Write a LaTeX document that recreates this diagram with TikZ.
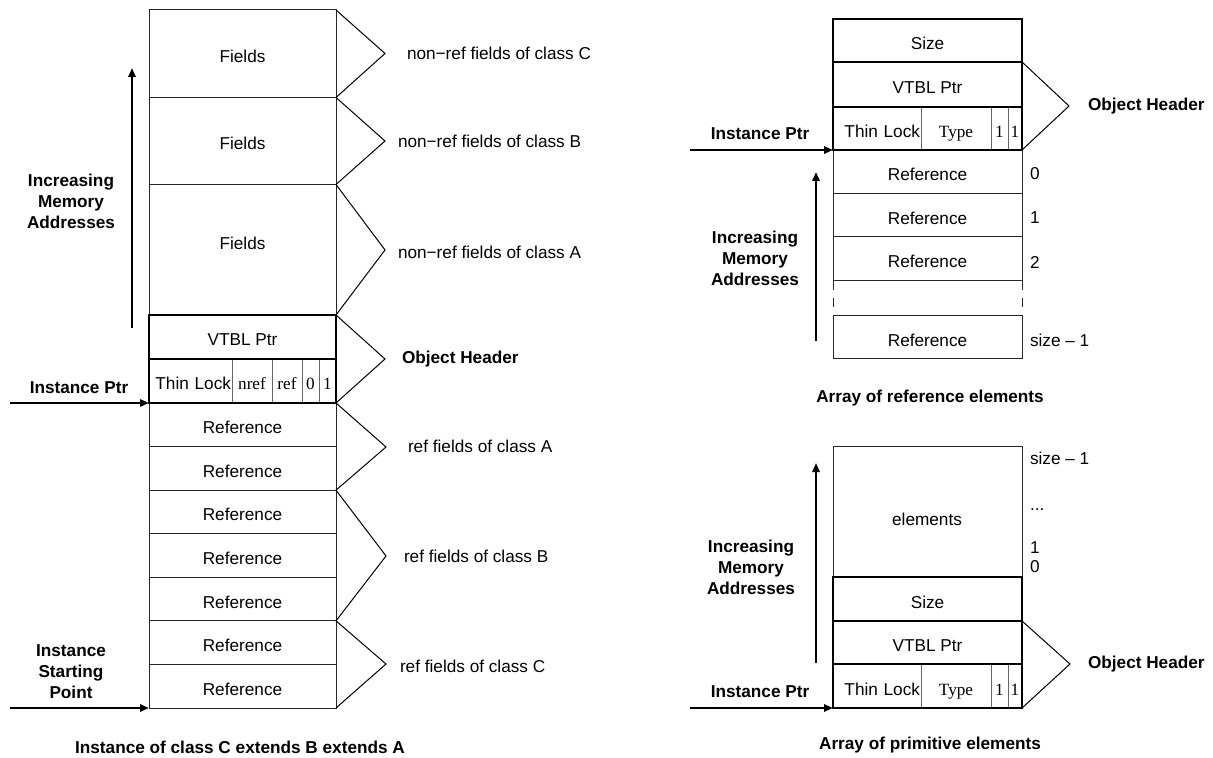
\documentclass[tikz,border=0pt]{standalone}
\usepackage{fontspec}
\setmainfont{Liberation Sans}
\newfontfamily\cellserif{Liberation Serif}
\usetikzlibrary{arrows.meta}
\begin{document}
\begin{tikzpicture}[x=0.5pt,y=-0.5pt,
  every node/.style={font=\fontsize{8.6}{10.5}\selectfont, inner sep=0pt, outer sep=0pt},
  cell/.style={draw=black!85, line width=0.5pt, anchor=north west, text height=9pt, text depth=0pt},
  hdr/.style={draw=black, line width=1.3pt, anchor=north west, text height=9pt, text depth=0pt},
  sub/.style={anchor=north west, font=\fontsize{8.6}{10.5}\selectfont\cellserif, text height=9pt, text depth=0pt},
  plain/.style={anchor=north west, text height=9pt, text depth=0pt},
  lockcell/.style={plain, text width=#1, align=right},
  divider/.style={draw=black!60, line width=0.5pt},
  brace/.style={draw=black, line width=0.5pt, line join=miter},
  bigarrow/.style={draw=black, line width=1.3pt, -{Triangle[length=4.5pt,width=3.6pt]}},
  lbl/.style={anchor=west},
  bold/.style={font=\fontsize{8.6}{10.5}\selectfont\bfseries, align=center},
]
\useasboundingbox (0,0) rectangle (1213,758);

% ================= LEFT: instance =================
\node[cell, minimum width=93.5pt, minimum height=43.75pt] (f3) at (149,10) {Fields};
\node[cell, minimum width=93.5pt, minimum height=43.5pt] (f2) at (149,97.5) {Fields};
\node[cell, minimum width=93.5pt, minimum height=65.25pt, text depth=9pt] (f1) at (149,184.5) {Fields};
\foreach \i in {1,...,7}
  \node[cell, minimum width=93.5pt, minimum height=21.79pt] (r\i) at (149,{403+(\i-1)*43.57}) {Reference};
\node[hdr, minimum width=93.5pt, minimum height=22pt] (vt) at (149,315) {VTBL Ptr};
\node[hdr, minimum width=93.5pt, minimum height=22pt] (tl) at (149,359) {};
\node[lockcell=40.5pt, minimum width=41.5pt, minimum height=22pt] (tla) at (149,359) {Thin Lock};
\node[sub, minimum width=20pt, minimum height=22pt] (tlb) at (232,359) {nref};
\node[sub, minimum width=15pt, minimum height=22pt] (tlc) at (272,359) {ref};
\node[sub, minimum width=8.5pt, minimum height=22pt] (tld) at (302,359) {0};
\node[sub, minimum width=8.5pt, minimum height=22pt] (tle) at (319,359) {1};
\draw[divider] (tla.north east) -- (tla.south east);
\draw[divider] (tlb.north east) -- (tlb.south east);
\draw[divider] (tlc.north east) -- (tlc.south east);
\draw[divider] (tld.north east) -- (tld.south east);
\draw[hdr] (tl.north west) rectangle (tl.south east);

% chevrons left
\coordinate (cC) at (385,53.5);
\coordinate (cB) at (385,141);
\coordinate (cA) at (385,250);
\coordinate (cH) at (385,359);
\coordinate (cRA) at (386,447);
\coordinate (cRB) at (386,556);
\coordinate (cRC) at (386,664);
\draw[brace] (f3.north east) -- (cC) -- (f3.south east);
\draw[brace] (f2.north east) -- (cB) -- (f2.south east);
\draw[brace] (f1.north east) -- (cA) -- (f1.south east);
\draw[brace] (vt.north east) -- (cH) -- (tl.south east);
\draw[brace] (r1.north east) -- (cRA) -- (r2.south east);
\draw[brace] (r3.north east) -- (cRB) -- (r5.south east);
\draw[brace] (r6.north east) -- (cRC) -- (r7.south east);

\node[lbl] (lC) at (407,53) {non−ref fields of class C};
\node[lbl] (lB) at (398,141) {non−ref fields of class B};
\node[lbl] (lA) at (398,252) {non−ref fields of class A};
\node[lbl, font=\fontsize{8.6}{10.5}\selectfont\bfseries] (lH) at (402,359) {Object Header};
\node[lbl] (lRA) at (408,446) {ref fields of class A};
\node[lbl] (lRB) at (404,556) {ref fields of class B};
\node[lbl] (lRC) at (400,666) {ref fields of class C};

% left arrows and labels
\coordinate (incLb) at (132,328);
\coordinate (incLt) at (132,68);
\draw[bigarrow] (incLb) -- (incLt);
\node[bold] (incL) at (71,201) {Increasing\\Memory\\Addresses};
\coordinate (ipLs) at (10,403);
\draw[bigarrow] (ipLs) -- (tl.south west);
\node[bold] (ipL) at (79,388) {Instance Ptr};
\coordinate (isLs) at (10,708);
\draw[bigarrow] (isLs) -- (r7.south west);
\node[bold] (isL) at (71,672) {Instance\\Starting\\Point};
\node[bold] (capL) at (240,747) {Instance of class C extends B extends A};

% ================= RIGHT TOP: array of references =================
\node[cell, minimum width=94.5pt, minimum height=21.75pt] (ar1) at (833,150) {Reference};
\node[cell, minimum width=94.5pt, minimum height=21.75pt] (ar2) at (833,193.5) {Reference};
\node[cell, minimum width=94.5pt, minimum height=22pt] (ar3) at (833,237) {Reference};
\node[cell, minimum width=94.5pt, minimum height=21.5pt] (ar4) at (833,316) {Reference};
\draw[black!85, line width=0.5pt, dash pattern=on 4.5pt off 4pt] (ar3.south west) -- (ar4.north west);
\draw[black!85, line width=0.5pt, dash pattern=on 4.5pt off 4pt] (ar3.south east) -- (ar4.north east);
\node[hdr, minimum width=94.5pt, minimum height=21.5pt] (asz) at (833,19) {Size};
\node[hdr, minimum width=94.5pt, minimum height=22.5pt] (avt) at (833,62) {VTBL Ptr};
\node[hdr, minimum width=94.5pt, minimum height=21.5pt] (atl) at (833,107) {};
\node[lockcell=43pt, minimum width=44pt, minimum height=21.5pt] (atla) at (833,107) {Thin Lock};
\node[sub, minimum width=35pt, minimum height=21.5pt] (atlb) at (921,107) {Type};
\node[sub, minimum width=8.5pt, minimum height=21.5pt] (atlc) at (991,107) {1};
\node[sub, minimum width=7pt, minimum height=21.5pt] (atld) at (1008,107) {1};
\draw[divider] (atla.north east) -- (atla.south east);
\draw[divider] (atlb.north east) -- (atlb.south east);
\draw[divider] (atlc.north east) -- (atlc.south east);
\draw[hdr] (atl.north west) rectangle (atl.south east);

\coordinate (acH) at (1069,106);
\draw[brace] (avt.north east) -- (acH) -- (atl.south east);
\node[lbl, font=\fontsize{8.6}{10.5}\selectfont\bfseries] (alH) at (1088,106) {Object Header};

\node[lbl] (ai0) at (1030,174) {0};
\node[lbl] (ai1) at (1030,218) {1};
\node[lbl] (ai2) at (1030,262) {2};
\node[lbl] (ain) at (1030,340) {size – 1};

\coordinate (incAb) at (816,341);
\coordinate (incAt) at (816,172);
\draw[bigarrow] (incAb) -- (incAt);
\node[bold] (incA) at (755,258) {Increasing\\Memory\\Addresses};
\coordinate (ipAs) at (690,150);
\draw[bigarrow] (ipAs) -- (atl.south west);
\node[bold] (ipA) at (760,134) {Instance Ptr};
\node[bold] (capA) at (930,398) {Array of reference elements};

% ================= RIGHT BOTTOM: array of primitives =================
\node[cell, minimum width=94.5pt, minimum height=65.5pt] (pel) at (833,446) {};
\node (pelt) at (927,519) {elements};
\node[hdr, minimum width=94.5pt, minimum height=22pt] (psz) at (833,577) {Size};
\node[hdr, minimum width=94.5pt, minimum height=21.5pt] (pvt) at (833,621) {VTBL Ptr};
\node[hdr, minimum width=94.5pt, minimum height=22pt] (ptl) at (833,664) {};
\node[lockcell=43pt, minimum width=44pt, minimum height=22pt] (ptla) at (833,664) {Thin Lock};
\node[sub, minimum width=35pt, minimum height=22pt] (ptlb) at (921,664) {Type};
\node[sub, minimum width=8.5pt, minimum height=22pt] (ptlc) at (991,664) {1};
\node[sub, minimum width=7pt, minimum height=22pt] (ptld) at (1008,664) {1};
\draw[divider] (ptla.north east) -- (ptla.south east);
\draw[divider] (ptlb.north east) -- (ptlb.south east);
\draw[divider] (ptlc.north east) -- (ptlc.south east);
\draw[hdr] (ptl.north west) rectangle (ptl.south east);

\coordinate (pcH) at (1070,664);
\draw[brace] (pvt.north east) -- (pcH) -- (ptl.south east);
\node[lbl, font=\fontsize{8.6}{10.5}\selectfont\bfseries] (plH) at (1088,664) {Object Header};

\node[lbl] (pin) at (1030,458) {size – 1};
\node[lbl] (pid) at (1030,510) {...};
\node[lbl] (pi1) at (1030,548) {1};
\node[lbl] (pi0) at (1030,567) {0};

\coordinate (incPb) at (816,663);
\coordinate (incPt) at (816,463);
\draw[bigarrow] (incPb) -- (incPt);
\node[bold] (incP) at (751,567) {Increasing\\Memory\\Addresses};
\coordinate (ipPs) at (690,708);
\draw[bigarrow] (ipPs) -- (ptl.south west);
\node[bold] (ipP) at (760,692) {Instance Ptr};
\node[bold] (capP) at (930,745) {Array of primitive elements};
\end{tikzpicture}
\end{document}
